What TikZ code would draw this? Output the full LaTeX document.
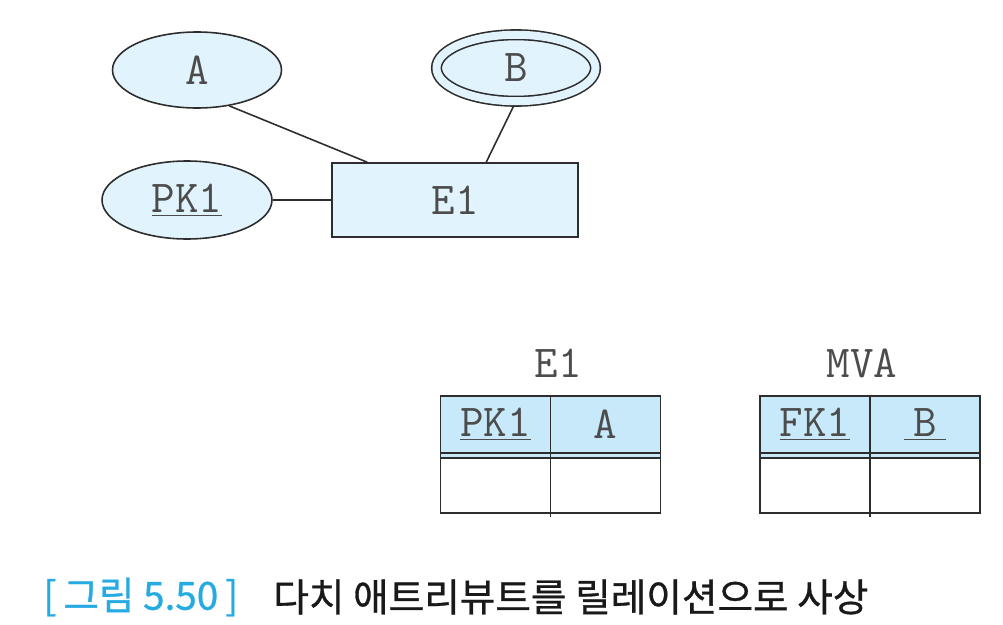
\documentclass[tikz,border=0pt]{standalone}
\usepackage{fontspec}
\newfontfamily\krfont[FakeBold=0.8]{Noto Sans CJK KR}
\usepackage{tikz}
\usetikzlibrary{positioning, shapes.geometric}
\definecolor{attrfill}{RGB}{225,243,252}
\definecolor{headfill}{RGB}{199,233,249}
\definecolor{capblue}{RGB}{38,170,226}
\definecolor{edgegray}{RGB}{45,45,45}

\begin{document}
\begin{tikzpicture}[
    attr/.style={draw=edgegray, ellipse, fill=attrfill, line width=0.9pt, inner sep=0pt, font=\fontsize{26}{30}\selectfont\ttfamily, text=black!70},
    ent/.style={draw=edgegray, rectangle, fill=attrfill, line width=0.9pt, minimum width=4.92cm, minimum height=1.48cm, font=\fontsize{26}{30}\selectfont\ttfamily, text=black!70},
    link/.style={line width=0.9pt, edgegray},
    hcell/.style={draw=edgegray, fill=headfill, line width=0.9pt, minimum width=2.2cm, minimum height=1.14cm, inner sep=0pt, outer sep=0pt, font=\fontsize{26}{30}\selectfont\ttfamily, text=black!70},
    bcell/.style={draw=edgegray, fill=white, line width=0.9pt, minimum width=2.2cm, minimum height=1.1cm, inner sep=0pt, outer sep=0pt},
    title/.style={font=\fontsize{26}{30}\selectfont\ttfamily, text=black!70},
    captext/.style={font=\krfont\fontsize{22}{26}\selectfont, anchor=west, inner sep=0pt},
]
\useasboundingbox (0,0) rectangle (20.06,-12.5);

% ER diagram
\node[attr, minimum width=3.38cm, minimum height=1.52cm] (A) at (3.94,-1.40) {A};
\node[attr, double=attrfill, double distance=0.16cm, minimum width=3.18cm, minimum height=1.33cm, outer sep=0.11cm] (B) at (10.32,-1.36) {B};
\node[attr, minimum width=3.4cm, minimum height=1.56cm] (PK1) at (3.74,-4.0) {\underline{PK1}};
\node[ent] (E1) at (9.10,-4.0) {E1};

\draw[link] (A.-48) -- ([xshift=0.72cm]E1.north west);
\draw[link] (B.-94) -- ([xshift=3.1cm]E1.north west);
\draw[link] (PK1) -- (E1);

% Relation E1
\node[title] (t1) at (11.16,-7.26) {E1};
\node[hcell] (e1pk) at (9.91,-8.49) {\underline{PK1}};
\node[hcell, right=0pt of e1pk] (e1a) {A};
\node[bcell, below=0.1cm of e1pk] (e1v1) {};
\node[bcell, below=0.1cm of e1a] (e1v2) {};
\draw[link, fill=headfill] (e1pk.south west) rectangle (e1v2.north east);
\draw[link] (e1pk.south east) -- (e1v1.north east);
\draw[link] (e1v1.south east) -- ++(0,-0.08);

% Relation MVA
\node[title] (t2) at (17.24,-7.26) {MVA};
\node[hcell] (mvfk) at (16.30,-8.49) {\underline{FK1}};
\node[hcell, right=0pt of mvfk] (mvb) {\underline{\makebox[0.9em]{B}}};
\node[bcell, below=0.1cm of mvfk] (mvv1) {};
\node[bcell, below=0.1cm of mvb] (mvv2) {};
\draw[link, fill=headfill] (mvfk.south west) rectangle (mvv2.north east);
\draw[link] (mvfk.south east) -- (mvv1.north east);
\draw[link] (mvv1.south east) -- ++(0,-0.08);

% Caption
\node[captext, text=capblue] (cap1) at (0.86,-11.94) {[\hspace{0.18em}그림 5.50\hspace{0.18em}]};
\node[captext, text=black!90] (cap2) at (5.46,-11.94) {다치 애트리뷰트를 릴레이션으로 사상};

\end{tikzpicture}
\end{document}
